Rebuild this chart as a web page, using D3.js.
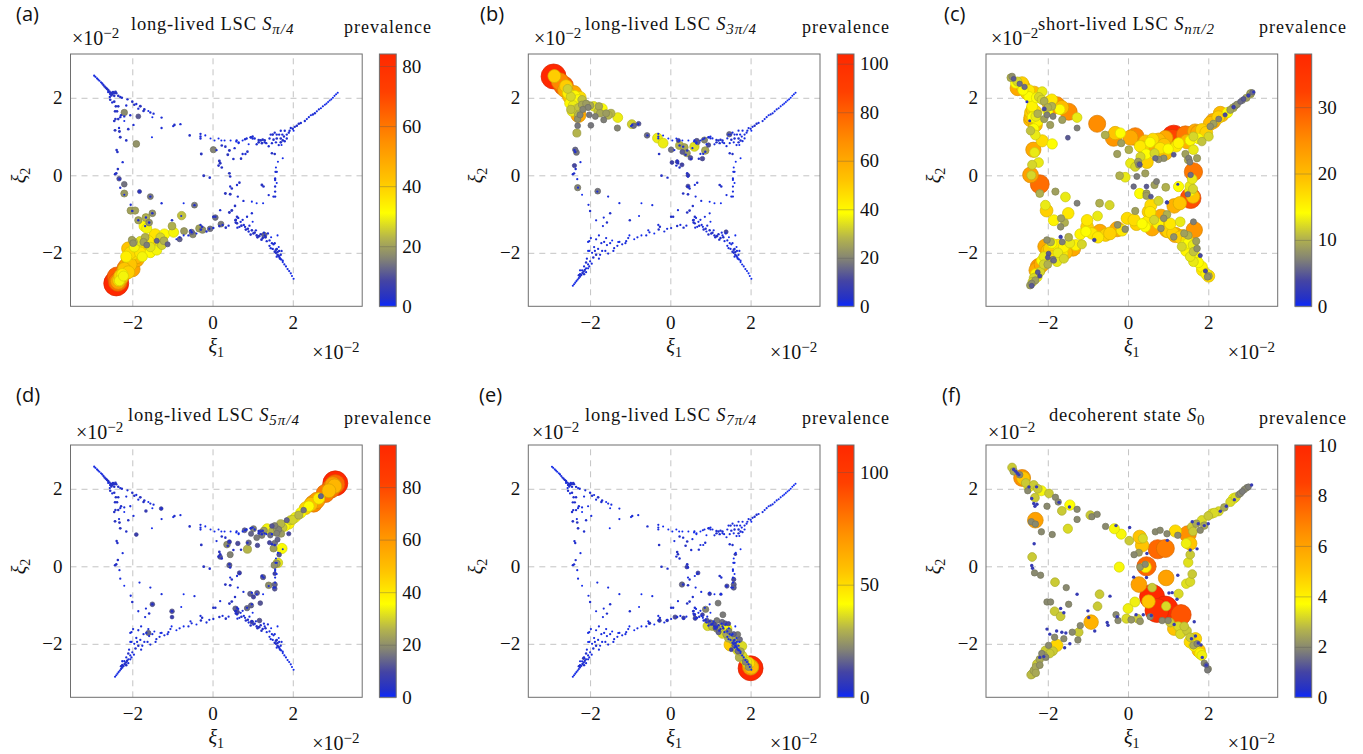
<!DOCTYPE html>
<html lang="en">
<head>
  <meta charset="UTF-8">
  <title>Prevalence maps</title>
  <script src="https://d3js.org/d3.v7.min.js"></script>
  <style>
    body { margin: 0; background: #fff; }
    svg { display: block; }
    text { font-family: "Liberation Serif", serif; fill: #111; }
    .panelTag { font-family: "Open Sans", sans-serif; font-size: 20px; }
    .tick text { font-size: 19px; }
  </style>
</head>
<body>
<div class="main"></div>
<script>

  // values, every point is [xi1, xi2, prevalence]
  const panelLabels = ["(a)", "(b)", "(c)", "(d)", "(e)", "(f)"];
  const panelStates = ["long-lived LSC ", "long-lived LSC ", "short-lived LSC ", "long-lived LSC ", "long-lived LSC ", "decoherent state "];
  const panelSubscripts = ["\u03c0/4", "3\u03c0/4", "n\u03c0/2", "5\u03c0/4", "7\u03c0/4", "0"];
  const colorMax = [84, 104, 38, 96, 112, 10];
  const colorTicks = [[0, 20, 40, 60, 80], [0, 20, 40, 60, 80, 100], [0, 10, 20, 30], [0, 20, 40, 60, 80], [0, 50, 100], [0, 2, 4, 6, 8, 10]];
  const xiTicks = [-2, 0, 2];

  const tipNW = [[-2.95,2.57,1.5],[-2.92,2.54,1.5],[-2.88,2.5,1.5],[-2.85,2.47,1.5],[-2.82,2.44,1.5],[-2.78,2.4,1.5],[-2.75,2.37,2],[-2.72,2.33,2],[-2.69,2.29,2.5],[-2.66,2.26,2.5],[-2.63,2.23,3],[-2.6,2.2,3],[-2.57,2.16,3],[-2.53,2.13,3],[-2.5,2.1,3],[-2.46,2.12,4],[-2.42,2.15,4],[-2.52,2.06,3],[-2.56,2.02,2],[-2.55,1.95,3],[-2.6,2.15,2],[-2.55,2.1,3],[-2.48,2.15,3],[-2.45,2.05,3],[-2.4,2.12,3],[-2.35,2.05,3],[-2.3,2.02,2]];
  const bandNW = [[-2.41,1.78,3],[-2.35,1.78,3],[-2.43,1.65,3],[-2.26,2.0,3],[-2.12,1.96,2],[-2.0,1.9,3],[-1.9,1.84,2],[-1.8,1.78,4],[-1.72,1.66,3],[-1.6,1.66,1],[-1.47,1.59,2],[-1.27,1.49,2],[-1.27,1.22,2],[-1.51,0.98,1],[-1.97,1.3,2],[-2.1,1.19,3],[-2.43,1.16,4],[-2.32,1.13,4],[-2.3,0.98,4],[-2.15,0.9,3],[-2.3,1.5,2],[-2.2,1.4,1],[-2.05,1.55,2],[-2.5,1.88,2],[-2.45,1.9,3],[-2.38,1.65,3],[-2.28,1.55,3],[-2.45,1.4,3],[-2.35,1.45,3],[-2.2,1.52,2],[-2.15,1.8,2],[-1.95,1.82,3],[-1.85,1.72,2],[-1.7,1.7,3],[-1.55,1.62,2],[-1.5,1.5,1],[-2.42,1.45,3],[-2.33,1.22,2]];
  const cloudW = [[-2.39,0.65,3],[-2.37,0.6,3],[-2.24,0.34,2],[-2.36,0.16,3],[-2.43,0.03,3],[-2.4,0.05,3],[-2.32,-0.1,2],[-2.3,-0.32,2],[-2.2,-0.5,1],[-2.04,-0.76,2],[-2.0,-0.92,3],[-1.82,-0.42,2],[-1.55,-0.55,2],[-1.27,-0.72,2],[-0.72,-0.72,1],[-0.45,-0.77,2],[-1.5,-0.98,3],[-1.01,-1.16,3],[-0.78,-1.05,1],[-1.85,-1.16,2],[-1.66,-1.09,2],[-1.58,-1.22,3],[-1.68,-1.31,2]];
  const cloudTop = [[-0.95,1.3,3],[-0.98,1.27,2],[-0.8,1.32,2],[-0.57,1.03,3],[-0.3,1.07,2],[-0.3,1.0,2],[-0.3,0.95,2],[-0.18,1.03,1],[-0.05,0.95,1],[0.05,0.9,1],[0.15,0.95,1],[0.22,0.9,1],[0.3,0.9,1],[0.45,0.9,1],[0.6,0.9,2],[0.65,0.85,2],[0.75,0.9,1],[0.85,0.95,2],[1.0,1.0,2],[1.05,0.95,2],[1.2,0.9,3],[1.25,0.92,3],[1.15,0.85,3],[1.3,0.85,2],[0.95,0.98,3]];
  const cloudNE = [[1.45,1.05,2],[1.5,1.05,3],[1.6,1.05,2],[1.7,1.15,2],[1.8,1.15,2],[1.9,1.1,2],[1.7,0.95,3],[1.75,0.9,3],[1.8,0.88,2],[1.7,0.85,3],[1.85,1.05,2],[1.6,0.95,3],[2.0,1.2,2],[2.05,1.25,2],[2.1,1.28,3],[2.15,1.33,3],[2.2,1.35,2],[2.3,1.4,2],[2.35,1.45,1.5],[2.4,1.5,1.5],[2.45,1.55,1.5],[2.5,1.57,2],[2.55,1.6,2],[2.6,1.65,1.5],[2.65,1.7,1.5],[2.7,1.73,1.5],[2.75,1.78,1.5],[2.8,1.82,1],[2.84,1.85,1],[2.88,1.89,1],[2.92,1.93,1],[2.96,1.96,1],[3.0,2.0,1],[3.04,2.05,1],[3.08,2.09,1],[3.12,2.13,1],[1.42,0.95,2],[1.52,0.92,3],[1.58,0.85,2],[1.65,0.78,2],[1.72,0.78,1],[1.78,1.0,2],[1.85,0.95,2],[1.92,1.15,2],[1.95,1.22,2],[2.02,1.15,1],[1.66,1.05,2],[1.74,1.05,2],[1.55,1.1,2],[1.4,0.75,2],[1.3,0.9,3],[1.1,0.8,2],[1.0,0.95,2],[0.82,0.55,2],[0.9,0.8,1],[0.55,0.7,2],[0.75,0.55,2]];
  const cloudC = [[-0.28,0.55,4],[-0.22,-0.01,4],[-0.07,-0.06,3],[0.23,0.77,3],[0.32,0.74,3],[0.1,0.65,2],[0.42,0.64,4],[0.38,0.53,4],[0.52,0.42,3],[0.71,0.43,3],[0.87,0.61,3],[0.65,0.83,1],[0.59,0.87,1],[0.81,0.93,2],[0.96,0.98,2],[1.15,0.91,3],[1.23,0.83,3],[1.34,0.83,2],[1.48,0.83,2],[1.48,0.57,3],[1.55,0.55,3],[1.75,0.44,1],[0.17,0.37,4],[0.19,0.31,4],[0.15,0.25,3],[0.23,0.2,3],[0.42,0.05,4],[0.44,-0.03,3],[0.67,-0.19,3],[0.61,-0.25,2],[0.48,-0.34,3],[0.44,-0.29,2],[0.44,-0.49,4],[0.32,-0.47,4],[0.63,-0.55,2],[0.77,-0.66,2],[0.56,-0.79,3],[0.48,-0.91,4],[0.42,-0.96,4],[0.19,-0.9,2],[0.02,-1.07,3],[0.07,-1.07,3],[0.98,-0.68,1],[1.1,-0.72,1],[1.26,-0.72,1],[0.98,-0.98,2],[0.86,-1.07,2],[1.23,-0.25,4],[1.27,-0.29,3],[1.4,-0.51,2],[1.57,0.09,2],[1.6,0.09,2],[1.56,-0.12,2],[1.56,-0.29,2],[1.56,-0.42,2],[1.52,-0.55,2],[1.56,-0.55,2],[1.63,0.35,1],[1.56,-0.08,2],[1.58,0.2,1],[1.6,-0.2,1],[0.61,-1.07,3],[0.57,-1.16,3],[0.61,-1.24,3],[0.67,-1.33,2],[0.81,-1.33,2],[0.75,-1.15,2],[1.0,-1.2,1]];
  const cloudSouth = [[-0.52,-1.47,2],[-0.29,-1.4,3],[-0.26,-1.33,3],[-0.08,-1.38,2],[0.02,-1.36,2],[0.17,-1.31,3],[0.25,-1.28,2],[0.33,-1.35,3],[0.4,-1.3,2],[0.58,-1.22,3],[0.62,-1.35,2],[-0.72,-1.55,1],[-0.9,-1.65,1],[-0.82,-1.6,2],[-0.6,-1.55,2],[-0.55,-1.42,2],[-0.4,-1.5,1],[-0.3,-1.28,2],[-0.15,-1.45,2]];
  const cloudSE = [[0.83,-1.4,3],[0.9,-1.45,2],[0.95,-1.53,3],[1.05,-1.48,3],[1.1,-1.55,3],[1.16,-1.57,4],[1.25,-1.62,3],[1.3,-1.55,2],[1.35,-1.7,2],[1.42,-1.82,2],[1.5,-1.9,2],[1.55,-1.97,3],[1.62,-2.05,3],[1.65,-1.85,1],[1.7,-2.05,2],[1.75,-2.2,1.5],[1.67,-2.12,2],[1.71,-2.17,2],[1.75,-2.24,1.5],[1.79,-2.3,1.5],[1.83,-2.35,1.5],[1.87,-2.42,1.5],[1.91,-2.47,1.5],[1.95,-2.53,1.5],[1.98,-2.6,1],[2.02,-2.67,1],[0.58,-1.15,3],[0.64,-1.1,2],[0.7,-1.2,2],[0.72,-1.3,3],[0.78,-1.28,2],[0.88,-1.38,3],[0.92,-1.3,2],[0.98,-1.42,3],[1.02,-1.5,3],[1.08,-1.42,2],[1.12,-1.6,3],[1.2,-1.52,3],[1.22,-1.66,3],[1.28,-1.48,2],[1.32,-1.6,3],[1.38,-1.5,2],[1.42,-1.68,2],[1.46,-1.6,1],[1.48,-1.75,2],[1.52,-1.78,2],[1.45,-1.88,2],[1.58,-1.92,3],[1.6,-1.9,3],[1.62,-1.98,3],[1.66,-1.95,2],[1.58,-2.0,3],[1.65,-2.08,3],[1.72,-1.95,2],[1.68,-2.15,2],[1.6,-2.1,2],[1.55,-1.75,2],[1.62,-1.55,1]];
  const cloudSW = [[-2.43,-2.85,1.5],[-2.4,-2.81,1.5],[-2.37,-2.77,1.5],[-2.34,-2.73,1.5],[-2.31,-2.69,2],[-2.28,-2.65,2],[-2.25,-2.61,2.5],[-2.22,-2.57,2.5],[-2.19,-2.52,3],[-2.16,-2.48,3],[-2.13,-2.44,3],[-2.1,-2.4,2],[-2.15,-2.35,2],[-2.05,-2.3,2],[-2.0,-2.22,2],[-2.08,-2.15,2],[-2.05,-1.95,1],[-2.02,-1.7,2],[-1.9,-1.85,2],[-1.85,-2.05,3],[-1.78,-2.15,2],[-1.7,-1.95,2],[-1.65,-1.72,2],[-1.58,-1.8,2],[-1.55,-2.02,2],[-1.45,-1.68,1],[-1.4,-1.88,2],[-1.27,-1.72,2],[-1.2,-1.78,2],[-1.1,-1.7,2],[-1.02,-1.55,1],[-2.02,-1.95,2],[-1.95,-2.0,2],[-1.92,-2.12,3],[-2.1,-2.25,3],[-2.02,-2.35,2],[-1.96,-2.28,2],[-1.88,-1.95,2],[-1.8,-1.9,2],[-1.75,-2.05,2],[-1.72,-1.75,2],[-1.62,-1.95,2],[-1.6,-1.62,2],[-1.5,-1.75,2],[-1.42,-1.95,2],[-1.32,-1.82,2],[-1.3,-1.72,1],[-1.12,-1.75,2],[-1.05,-1.62,2],[-2.25,-2.55,3],[-2.2,-2.45,2],[-2.15,-2.55,3],[-2.25,-2.45,2],[-2.1,-2.5,2],[-2.05,-2.4,2],[-2.28,-2.58,3],[-2.05,-1.72,2],[-1.98,-1.62,2],[-1.85,-1.65,2],[-1.78,-1.55,2]];

  const highlightsA = [[-2.4,-2.79,84],[-2.36,-2.75,62],[-2.35,-2.74,50],[-2.33,-2.71,40],[-2.32,-2.72,30],[-2.25,-2.55,34],[-2.2,-2.5,55],[-2.15,-2.4,60],[-2.28,-2.65,45],[-1.89,-2.17,48],[-2.07,-2.16,48],[-2.1,-1.89,42],[-1.97,-2.02,38],[-1.72,-1.93,40],[-1.85,-1.8,38],[-1.51,-1.67,40],[-1.68,-1.6,22],[-1.97,-1.72,22],[-2.01,-1.67,20],[-1.43,-1.53,36],[-1.2,-1.52,32],[-1.39,-1.93,30],[-1.55,-1.99,32],[-1.26,-1.8,26],[-1.21,-1.69,22],[-1.12,-1.78,12],[-1.64,-1.8,15],[-1.39,-1.69,12],[-1.7,-1.31,32],[-1.64,-1.37,30],[-1.85,-1.16,20],[-1.66,-1.09,22],[-1.58,-1.22,18],[-1.5,-0.98,18],[-2.04,-0.91,20],[-1.93,-0.91,20],[-1.01,-1.31,22],[-0.97,-1.47,30],[-0.77,-1.04,24],[-0.71,-1.44,19],[-0.45,-0.77,15],[-0.52,-1.46,13],[-0.49,-1.53,17],[-0.82,-1.65,12],[-0.33,-1.37,20],[-0.25,-1.41,18],[-0.06,-1.38,14],[0.21,-1.26,15],[0.07,-1.09,14],[-2.2,-0.23,14],[-2.33,-0.09,10],[-2.2,-0.47,19],[-1.55,-0.55,15],[-1.82,-0.42,8],[-1.9,0.81,18],[-2.2,1.62,17],[-1.85,1.52,11],[0.02,0.66,16],[1.29,-1.54,13],
    [-2.15,-2.1,34],[-2.05,-2.3,42],[-2,-2.42,50],[-2.1,-2.5,40],[-2.22,-2.6,30],[-1.9,-2.1,45],[-1.8,-2.0,36],[-1.75,-2.1,30],[-1.95,-1.85,30],[-2.05,-2.0,38],[-1.8,-1.7,28],[-1.6,-1.7,35],[-1.55,-1.85,28],[-1.3,-1.6,26],[-1.3,-1.75,28],[-1.85,-1.95,42],[-1.98,-1.75,18],[-1.72,-1.72,20],[-2.12,-2.3,50],[-2.2,-2.42,42],[-2.3,-2.6,40],[-2.38,-2.62,65]];
  const highlightsB = [[-2.91,2.55,104],[-2.89,2.56,50],[-2.66,2.31,80],[-2.56,2.23,32],[-2.51,2.03,55],[-2.48,2.03,33],[-2.25,2.01,46],[-2.4,2.12,60],[-2.2,1.95,30],[-2.5,1.86,40],[-2.33,1.86,40],[-2.45,1.65,36],[-2.29,1.56,60],[-2.29,1.56,28],[-2.25,1.56,20],[-2.31,1.28,18],[-2.33,1.09,28],[-2.31,1.45,22],[-1.91,1.78,35],[-1.7,1.72,38],[-1.78,1.78,26],[-1.48,1.6,28],[-1.31,1.49,36],[-2.02,1.56,18],[-1.87,1.52,19],[-1.66,1.43,19],[-1.32,1.22,20],[-0.96,1.32,32],[-0.91,1.28,16],[-0.79,1.33,13],[-0.58,1.03,17],[-0.32,0.96,36],[-0.18,0.83,36],[0.02,0.66,17],[0.23,0.77,28],[0.35,0.72,26],[0.41,0.57,24],[0.6,0.74,34],[0.87,0.64,26],[0.85,0.91,20],[0.66,0.89,14],[1.47,1.06,16],[-2.37,0.66,16],[-2.34,0.59,18],[-2.39,0.25,11],[-2.31,-0.32,20],[-1.81,-0.41,18],[-1.98,1.29,18],[1.39,-1.46,10],[0.04,0.33,9],[0.17,0.35,9],[0.29,0.27,10],[0.44,-0.28,10],[0.44,0,9],
    [-2.75,2.42,70],[-2.6,2.3,50],[-2.62,2.2,60],[-2.55,2.12,42],[-2.45,1.98,45],[-2.38,2.05,40],[-2.3,1.95,38],[-2.42,1.8,36],[-2.2,1.82,26],[-2.1,1.85,24],[-2.05,1.75,20],[-2.0,1.8,26],[-1.8,1.65,30],[-1.6,1.6,24],[-1.55,1.55,28],[-1.75,1.6,26],[-2.35,1.7,34],[-2.48,1.7,30],[-2.28,1.75,30],[-2.18,1.7,20],[0.68,0.85,14],[0.95,0.78,12],[0.3,0.6,14],[0.5,0.45,13],[0.8,0.43,12],[0.2,0.9,10]];
  const highlightsC = [[-2.89,2.55,8],[-2.85,2.49,5],[-2.76,2.42,12],[-2.7,2.36,6],[-2.64,2.38,18],[-2.58,2.28,6],[-2.75,2.25,22],[-2.47,2.19,16],[-2.34,2.12,20],[-2.14,2.16,13],[-2.47,2.03,14],[-2.22,2.02,12],[-2.09,1.91,10],[-1.97,1.86,20],[-1.78,1.81,25],[-1.9,1.78,10],[-1.48,1.64,25],[-1.27,1.49,13],[-2.39,1.78,15],[-2.31,1.65,17],[-2.25,1.59,10],[-2.43,1.43,20],[-2.3,1.52,13],[-2.31,1.3,20],[-2.02,1.56,7],[-1.87,1.52,7],[-2.09,1.45,9],[-1.94,1.3,9],[-1.64,1.43,9],[-1.27,1.22,7],[-2.43,1.15,11],[-2.31,1.04,13],[-2.14,0.89,17],[-1.89,0.81,14],[-1.5,0.97,5],[-2.09,1.71,4],[-2.45,1.41,2],[-2.52,1.9,2],
    [-2.36,0.66,22],[-2.33,0.59,13],[-2.39,0.27,12],[-2.23,0.33,13],[-2.43,0.01,23],[-2.41,0,12],[-2.2,-0.23,28],[-2.2,-0.47,10],[-1.81,-0.42,9],[-1.56,-0.56,13],[-1.27,-0.72,7],[-0.71,-0.72,10],[-0.46,-0.77,12],[-2.06,-0.77,13],[-2.03,-0.91,18],[-1.49,-0.98,16],[-0.76,-1.05,13],[-1.85,-1.16,15],[-1.67,-1.11,9],[-1.58,-1.22,10],[-1.68,-1.33,8],
    [-0.77,1.33,25],[-0.57,1.04,10],[-0.32,1.09,19],[-0.36,0.96,24],[-0.19,1.09,14],[-0.17,0.83,9],[-0.27,0.55,9],[0.02,0.66,10],[0.06,0.31,13],[0.18,0.22,12],[0.27,0.27,8],[0.29,0.28,5],[0.47,0.34,18],[0.43,0.05,9],[0.22,-0.03,7],[-0.21,-0.01,10],[-0.07,-0.05,13],[0.14,-0.29,6],[0.46,-0.29,5],[0.71,-0.16,7],[0.66,-0.25,9],[0.29,-0.47,14],[0.46,-0.47,9],[0.46,-0.53,9],[0.57,-0.55,5],[0.94,-0.31,10],[0.76,-0.66,12],[0.57,-0.77,17],[0.97,-0.7,3],[0.31,0.48,12],[0.37,0.72,18],[0.18,1,26],[0.06,0.97,22],[0.43,0.87,19],[0.64,0.78,22],[0.62,0.93,17],[0.76,0.91,20],[0.93,0.96,22],[1.14,0.98,37],[1.1,0.91,32],[1.43,1.04,27],[1.47,0.87,21],[1.26,0.83,15],[1.14,0.53,5],[0.89,0.44,8],[0.68,0.44,6],[0.76,0.41,8],[0.66,0.57,12],[0.93,0.57,20],
    [1.63,0.09,27],[1.72,0.44,9],[1.63,0.66,13],[1.43,0.55,9],[1.51,0.44,7],[1.54,0.34,7],[1.56,0.01,6],[1.54,-0.28,13],[1.26,-0.29,14],[1.24,-0.23,2],[1.56,-0.59,31],[1.62,-0.55,19],[1.49,-0.49,6],[1.15,-0.79,21],[1.29,-0.72,19],[0.51,-0.94,18],[0.18,-0.92,9],
    [-0.02,-1.11,17],[0.21,-1.26,18],[0.47,-1.2,16],[0.43,-1.33,14],[0.6,-1.37,22],[0.82,-1.07,22],[0.97,-1.01,10],[0.89,-1.11,8],[0.82,-1.37,8],[0.97,-1.41,22],[1.18,-1.54,22],[1.14,-1.59,8],[1.3,-1.2,13],[1.65,-1.41,24],[1.63,-1.2,7],[1.47,-1.67,17],[-0.07,-1.39,8],[-0.27,-1.39,22],[-0.26,-1.28,8],[-0.56,-1.54,18],[-0.7,-1.46,22],[-1.02,-1.16,16],[-1.02,-1.33,18],[-1.19,-1.52,15],[-0.84,-1.67,3],[-1.15,-1.78,12],
    [-2.06,-1.84,22],[-1.85,-1.97,20],[-1.56,-1.99,20],[-1.37,-1.89,22],[-1.64,-2.02,16],[-2.02,-2.19,16],[-1.77,-2.23,13],[-2.23,-2.36,24],[-2.19,-2.49,12],[-2.27,-2.62,14],[-2.31,-2.71,9],[-2.4,-2.79,8],[-2.44,-2.84,9],[-2.02,-1.67,8],[-1.93,-1.72,10],[-1.68,-1.59,3],[-1.64,-1.72,7],[-1.48,-1.6,10],[-1.98,-2.02,5],[-1.87,-2.17,7],[-2.1,-2.1,13],
    [1.34,-1.84,12],[1.55,-1.89,15],[1.63,-1.97,11],[1.8,-2.07,4],[1.72,-1.89,8],[1.63,-2.23,13],[1.84,-2.36,15],[1.93,-2.47,4],[2.01,-2.6,17],[2.01,-2.6,9],
    [1.84,1.17,18],[1.67,1.13,22],[2.05,1.34,20],[2.13,1.33,9],[2.05,1.26,8],[2.01,1,12],[1.84,0.87,11],[1.63,1,12],[2.34,1.56,20],[2.26,1.45,7],[2.42,1.56,4],[2.55,1.69,9],[2.67,1.79,8],[2.8,1.9,6],[2.88,1.97,5],[3.0,2.06,3],[3.06,2.12,9],[3.13,2.15,2],[2.63,1.76,3],
    [-2.92,2.52,10],[-2.8,2.38,14],[-2.62,2.2,14],[-2.52,2.12,18],[-2.28,2.0,14],[-2.15,1.95,12],[-2.0,1.75,10],[-2.42,1.62,18],[-2.38,1.5,14],[-2.25,1.4,15],[-2.35,1.2,14],[-1.7,1.7,14],[-2.0,1.65,14],[-1.9,1.95,16],
    [-1.9,-1.75,14],[-1.75,-1.8,16],[-1.6,-1.85,15],[-1.45,-1.75,13],[-1.3,-1.8,15],[-2.0,-1.95,20],[-1.9,-2.1,17],[-2.1,-2.3,12],[-2.15,-2.2,14],[-2.0,-2.3,10],[-2.28,-2.45,22],[-2.3,-2.55,15],[-2.35,-2.65,12],[-2.38,-2.75,12],[-1.75,-2.0,13],[-1.6,-2.15,12],[-2.4,-2.85,5],[-2.2,-2.6,4],[-2.25,-2.5,5],[-2,-2.12,5],[-1.85,-2.2,6],
    [1.0,-1.45,18],[1.12,-1.5,18],[1.3,-1.6,18],[1.4,-1.8,14],[1.5,-1.75,14],[1.45,-1.95,15],[1.62,-1.8,13],[1.55,-2.1,13],[1.7,-2.1,14],[1.75,-2.25,14],[1.85,-2.45,16],[1.95,-2.55,15],[1.98,-2.62,8],[1.7,-1.7,9],[1.5,-1.55,10],[1.4,-1.5,9],[1.05,-1.25,16],[0.75,-1.25,15],[0.65,-1.15,12],[0.55,-0.95,16],[0.35,-1.25,14],[0.15,-1.15,17],
    [-0.45,-1.5,18],[-0.15,-1.42,16],[-0.9,-1.5,16],[-1.05,-1.45,14],[-0.75,-1.6,16],
    [0.9,0.78,19],[0.8,0.7,16],[1.0,0.68,14],[1.2,0.75,16],[1.55,0.9,14],[1.75,0.95,14],[1.95,1.1,18],[2.12,1.4,22],[2.25,1.5,18],[2.48,1.62,14],[2.62,1.74,10],[2.72,1.83,8],[2.95,2.0,9],[3.05,2.1,10],[2.85,1.93,7],[3.1,2.14,6],[1.5,0.4,10],[1.6,-0.1,13],[1.55,-0.4,15],[1.62,-0.35,12],[0.3,0.75,16],[0.55,0.85,14],[0.25,0.35,9],[0.45,0.55,14],
    [-2.62,2.3,20],[-2.42,1.5,20],[-2.38,1.7,18],[-1.65,1.75,20],[1.75,1.1,22],[2.3,1.6,20],[-2.15,-2.3,22],[-1.95,-1.9,18],[1.35,-1.58,20]];
  const highlightsD = [[3.06,2.14,96],[3.06,2.12,72],[3.04,2.07,52],[2.81,1.88,68],[2.52,1.62,64],[2.4,1.55,36],[2.7,1.81,14],[2.27,1.45,16],[2.15,1.32,26],[2.06,1.26,34],[1.8,1.04,36],[1.94,1.19,30],[1.7,1.1,26],[1.85,1.19,14],[1.71,0.84,22],[1.36,0.97,34],[1.48,1.04,12],[1.6,0.97,22],[1.73,0.46,35],[1.52,0.46,22],[1.63,0.09,32],[1.6,0.07,22],[1.54,0.03,20],[1.4,-0.49,20],[1.55,-0.47,14],[1.55,-0.58,12],[1.55,-0.19,8],[0.87,0.44,26],[1.12,0.54,11],[0.9,0.61,15],[1.02,0.97,18],[0.96,0.84,14],[0.8,0.93,13],[1.1,0.74,17],[1.23,0.8,18],[1.44,0.8,15],[1.62,0.69,14],[1.9,0.84,10],[1.42,0.61,10],[0.63,0.59,11],[0.36,0.56,20],[0.42,0.63,10],[0.44,0.3,18],[0.19,0.24,12],[0.42,0.03,14],[0.67,-0.17,10],[1.26,-0.28,14],[0.94,-0.71,14],[1.11,-0.69,13],[1.02,-0.79,10],[1.19,-0.95,12],[0.96,-1.01,14],[0.86,-1.08,15],[0.57,-1.09,14],[0.62,-1.18,10],[1.17,-1.4,12],[0.98,-1.44,8],[-1.5,-0.98,12],[-1.01,-1.16,12],[-1.01,-1.31,8],[-1.6,-1.72,14],[-1.9,0.82,8],[-1.66,1.43,7],[-1.28,1.49,8],
    [2.95,2.0,70],[3.0,2.1,60],[2.9,1.95,50],[2.65,1.75,40],[2.6,1.7,60],[2.45,1.6,50],[2.32,1.5,45],[2.2,1.38,36],[2.0,1.2,30],[1.9,1.1,38],[1.75,1.0,28],[1.65,0.95,18],[1.6,0.85,18],[1.5,0.9,26],[1.28,0.92,22],[1.2,0.88,14],[1.55,1.05,18],[1.66,0.3,12],[1.55,0.6,16]];
  const highlightsE = [[2,-2.63,112],[2,-2.6,70],[1.91,-2.47,38],[2.02,-2.6,60],[1.87,-2.47,22],[1.79,-2.3,36],[1.68,-2.17,38],[1.79,-2.06,36],[1.5,-2.02,54],[1.55,-1.9,30],[1.6,-2.04,17],[1.68,-2.19,18],[1.73,-1.89,18],[1.68,-1.76,20],[1.3,-1.74,36],[1.41,-1.61,40],[1.16,-1.61,26],[0.93,-1.54,36],[1.46,-1.67,20],[1.12,-1.59,13],[1.2,-1.7,16],[1.29,-1.44,18],[1.37,-1.47,14],[1.16,-1.4,20],[1.31,-1.25,20],[1.19,-0.95,20],[0.88,-1.11,22],[0.91,-1.4,14],[0.62,-1.34,12],[0.33,-1.33,9],[0.12,-1.31,12],[-0.27,-1.4,9],[-0.52,-1.47,8],[-0.08,-1.4,8],[0.29,-0.47,17],[0.69,-0.17,10],[0.41,-0.02,9],[1.41,-0.51,12],[1.58,-0.34,12],[1.58,-0.47,16],[1.58,-0.55,16],[1.62,0.31,8],[1.26,-0.72,7],[0.98,-0.71,9],[-2.16,-2.37,8],
    [1.95,-2.5,50],[1.85,-2.4,40],[1.95,-2.6,25],[1.75,-2.2,28],[1.62,-2.1,34],[1.45,-1.85,30],[1.4,-1.75,28],[1.22,-1.6,32],[1.05,-1.55,30],[1.0,-1.45,18],[1.1,-1.5,12],[1.45,-1.48,12],[1.58,-1.75,16],[1.52,-2.15,10],[0.8,-1.25,10],[0.6,-1.25,8],[1.72,-2.35,30]];
  const highlightsF = [[0.6,-0.79,10],[0.93,-1.09,10],[0.72,-1.14,9.5],[1.32,-1.25,8],[0.51,-0.91,5],[0.95,-1.03,3.2],[0.6,-0.55,3],[0.27,-0.47,6],[0.46,0,7.5],[0.44,-0.02,4],[0.43,0.05,2],[0.74,0.44,7.5],[0.93,0.46,7],[0.95,-0.3,6],[0.35,0.54,5],[0.29,0.76,5],[0.37,0.72,3.2],[1.49,0.83,6.5],[1.18,0.91,4.5],[1.55,0.59,5],[1.45,0.59,3.5],[1.26,-0.71,3.2],[0.17,-0.92,3.5],[0,-1.09,3.5],[-0.04,-1.35,3.2],[0.24,-1.35,3],[-0.22,-0.02,3.6],[-0.17,0.83,3.6],[-0.34,0.97,3.6],[0.03,0.66,3],[-0.92,-1.44,5.5],[-0.76,-1.03,3],[-0.71,-0.72,3],[-1.82,-0.41,3],[-1.54,-0.55,2],[-1.83,-1.16,3],[-1.68,-1.29,3],[-1.48,-0.98,2],[-2.02,-0.92,2],[-1.93,-0.92,2],[-2.39,0.24,3],[-2.31,1.19,6],[-2.41,1.15,2],[-2.31,1.09,2],[-2.16,0.89,2],[-1.89,0.82,2],[-1.5,0.97,3.2],[-2.33,-0.17,2],[-2.18,-0.23,2],[-2.64,2.28,6.5],[-2.61,2.27,5],[-2.47,2.05,3.6],[-2.16,1.95,3.6],[-1.97,1.88,3],[-2.32,1.77,3],[-1.81,1.78,2],[-1.74,1.66,2],[-2.02,1.55,2],[-1.45,1.58,3.7],[-1.65,1.43,3],[-1.27,1.47,2],[-1.27,1.21,2],[-0.94,1.32,3],[-0.9,1.28,2],[-0.77,1.34,2],[-0.56,1.03,2],
    [0.68,0.89,2],[0.8,0.93,2],[0.97,0.84,2],[1.24,0.8,2],[1.59,1.02,3],[1.84,1.19,3.2],[1.8,0.93,2],[2.09,1.36,3.3],[2.26,1.42,3.2],[2.63,1.75,3.6],[2.55,1.66,3.2],[2.96,2.03,2],[2.9,1.98,2],[2.85,1.93,1.8],[2.76,1.85,2],
    [1.15,-1.61,5],[1.34,-1.66,4.5],[1.68,-1.87,4.6],[1.76,-2.17,5],[1.47,-1.66,3],[1.55,-1.83,3],[1.63,-2.04,2.5],[1.84,-2.3,3.5],[2,-2.65,2],[1.95,-2.55,1.5],[1.05,-1.45,3],[0.85,-1.4,2],
    [-1.78,-2.04,4.6],[-2.06,-2.17,3],[-1.87,-2.19,3],[-1.98,-2.04,2],[-2.27,-2.52,3],[-2.35,-2.69,2.5],[-2.39,-2.78,3],[-1.23,-1.7,3],[-1.39,-1.7,2],[-1.25,-1.9,2],[-1.6,-1.87,2],[-1.83,-1.83,2],[-1.19,-1.53,2],[-2.2,-2.4,2.5],[-2.15,-2.25,2],
    [-2.89,2.55,3],[-2.7,2.36,2],
    [1.62,0.9,3],[1.7,1.1,2.5],[1.9,1.05,2.5],[2.15,1.38,3.2],[2.0,1.3,3],[2.4,1.52,2.5],[2.68,1.78,3.2],[2.8,1.88,2],[3,2.05,1.8],
    [1.0,-1.4,2],[1.25,-1.55,3.2],[1.3,-1.75,3.2],[1.4,-1.55,3],[1.55,-1.95,4.5],[1.65,-2.05,4],[1.72,-2.0,2],[1.8,-2.25,4],[1.9,-2.5,2],[1.98,-2.68,1.8],
    [-2.1,-2.3,2.5],[-2.2,-2.55,2.2],[-2.3,-2.6,2.5],[-2.42,-2.8,2.8],[-2.3,-2.75,2.5],[-1.95,-2.25,3],[-2.05,-2.35,2],
    [-2.85,2.45,2.5],[-2.55,2.15,3],[-2.35,2.1,3],[-2.25,2,3],[-2.5,1.95,2],
    [0.55,-1.3,2],[-0.25,-1.4,2],[-0.3,-1.25,2],[0.08,-1.38,2.2],[0.3,-1.42,2.2],[0.15,0.3,2],[0.27,0.35,2.3],[0.3,-0.02,2.2],[1.5,0.1,3.3],[1.55,0.3,3],[1.6,-0.2,3],[1.55,-0.4,3.2],[1.45,-0.45,3.3]];
  // small blue dots of panel f, shown at about 0.7 prevalence
  const blueF = [[-2.85,2.5,0.7],[-2.8,2.45,0.7],[-2.76,2.4,0.7],[-2.72,2.36,0.7],[-2.47,2.05,0.7],[-2.28,2.05,0.7],[-2.4,1.75,0.7],[-2.35,1.62,0.7],[-2.32,1.55,0.7],[-2.27,1.6,0.7],[-1.72,1.65,0.7],[-1.46,1.53,0.7],[-2.34,0.58,0.7],[-2.4,0.02,0.7],[-2.38,-0.05,0.7],[-1.27,-0.72,0.7],[-0.45,-0.77,0.7],[-1,-1.15,0.7],[-0.98,-1.32,0.7],[-1.68,-1.09,0.7],[-1.6,-1.2,0.7],[-0.52,-1.45,0.7],[-0.5,-1.52,0.7],[-0.27,-1.3,0.7],[-0.83,-1.67,0.7],[-2.02,-1.62,0.7],[-1.78,-1.67,0.7],[-1.65,-1.7,0.7],[-1.55,-1.72,0.7],[-1.95,-1.75,0.7],[-1.45,-2.0,0.7],[-1.58,-2.1,0.7],[-2.1,-2.33,0.7],[-2.2,-2.35,0.7],[0.14,-0.28,0.7],[0.46,-0.29,0.7],[1.24,-0.23,0.7],[1.02,-0.69,0.7],[1.1,-0.68,0.7],[1.22,-0.85,0.7],[0.2,-1.25,0.7],[0.38,-1.25,0.7],[0.58,-1.27,0.7],[1.65,-1.43,0.7],[1.15,-1.5,0.7],[1.58,-1.87,0.7],[1.68,-1.8,0.7],[1.75,-1.98,0.7],[1.82,-2.03,0.7],[1.85,-2.35,0.7],[1.95,-2.55,0.7],[0.47,0.33,0.7],[0.04,1.0,0.7],[-0.3,1.05,0.7],[0.98,0.67,0.7],[1.55,0.42,0.7],[1.72,0.45,0.7],[1.6,1.15,0.7],[1.75,1.1,0.7],[1.9,1.05,0.7],[2.0,1.1,0.7],[2.3,1.42,0.7],[2.45,1.55,0.7],[2.65,1.72,0.7],[3.08,2.1,0.7]];

  const cloudBase = [cloudW, cloudTop, cloudC, cloudSouth];
  const panelPoints = [
    [tipNW, bandNW, cloudNE, cloudSE, ...cloudBase, highlightsA],
    [cloudNE, cloudSW, cloudSE, ...cloudBase, highlightsB],
    [highlightsC],
    [tipNW, bandNW, cloudSW, cloudSE, ...cloudBase, highlightsD],
    [tipNW, bandNW, cloudNE, cloudSW, cloudSE, ...cloudBase, highlightsE],
    [highlightsF, blueF]
  ];

  // colormap anchors as fractions of the colorbar
  const colorStops = [0, 0.03, 0.1, 0.19, 0.27, 0.37, 0.5, 0.65, 0.85, 1];
  const colorValues = ["#0a28ff", "#2330c8", "#4444a4", "#848474", "#b4b44c", "#ffff00", "#ffc400", "#ff9000", "#ff4000", "#ff2800"];
  const colorRamp = d3.scaleLinear().domain(colorStops).range(colorValues).interpolate(d3.interpolateRgb);

  // layout, one entry per panel
  const boxLeft = [70.5, 528.3, 986, 70.5, 528.3, 986];
  const boxTop = [54, 54, 54, 445, 445, 445];
  const boxW = 291.7, boxH = 252.3, barGap = 17.2, barW = 16.8;
  const titleX = [131, 585, 1038, 128, 585, 1049];
  const titleY = [30, 30, 30, 421, 421, 421];
  const expX = [72, 534, 991, 76, 532, 988];
  const expY = [45, 45, 45, 439, 439, 439];
  const prevX = [344, 802, 1259, 344, 802, 1259];
  const tagX = [16, 480, 944, 16, 479, 942];
  const tagY = [21, 21, 21, 402, 402, 402];

  let width = 1363, height = 754;

  let svg = d3.select(".main").append("svg").attr("width", width).attr("height", height);

  let defs = svg.append("defs");
  let gradient = defs.append("linearGradient").attr("id", "ramp").attr("x1", 0).attr("y1", 1).attr("x2", 0).attr("y2", 0);
  colorStops.forEach((s, i) => gradient.append("stop").attr("offset", s).attr("stop-color", colorValues[i]));

  let addExponent = (x, y) => {
    let t = svg.append("text").attr("x", x).attr("y", y).style("font-size", "20px").text("\u00d710");
    t.append("tspan").attr("dy", -7).style("font-size", "15px").text("\u22122");
  };

  let drawPanel = (idx) => {
    let left = boxLeft[idx], top = boxTop[idx];
    let xScale = d3.scaleLinear().domain([-3.54, 3.73]).range([left, left + boxW]);
    let yScale = d3.scaleLinear().domain([-3.38, 3.13]).range([top + boxH, top]);
    let rScale = d3.scaleLinear().domain([0, colorMax[idx]]).range([0.9, 12.5]);
    let cScale = v => colorRamp(v / colorMax[idx]);

    let fmt = d => String(d).replace("-", "\u2212");

    // grid comes out of the axes
    let xAxis = d3.axisBottom(xScale).tickValues(xiTicks).tickSize(-boxH).tickPadding(9).tickFormat(fmt);
    let yAxis = d3.axisLeft(yScale).tickValues(xiTicks).tickSize(-boxW).tickPadding(8).tickFormat(fmt);

    let gx = svg.append("g").attr("transform", `translate(0,${top + boxH})`).call(xAxis);
    let gy = svg.append("g").attr("transform", `translate(${left},0)`).call(yAxis);
    [gx, gy].forEach(g => {
      g.select(".domain").remove();
      g.selectAll(".tick line").attr("stroke", "#c4c4c4").attr("stroke-dasharray", "6,5");
    });

    let points = panelPoints[idx].flat().slice().sort((a, b) => b[2] - a[2]);
    svg.append("g").selectAll("circle")
      .data(points)
      .join("circle")
      .attr("cx", d => xScale(d[0]))
      .attr("cy", d => yScale(d[1]))
      .attr("r", d => rScale(d[2]))
      .attr("fill", d => cScale(d[2]))
      .attr("stroke", d => d3.color(cScale(d[2])).darker(0.45))
      .attr("stroke-width", d => rScale(d[2]) > 1.8 ? 0.7 : 0);

    svg.append("rect").attr("x", left).attr("y", top).attr("width", boxW).attr("height", boxH)
      .attr("fill", "none").attr("stroke", "#6e6e6e").attr("stroke-width", 1);

    // colorbar
    let barX = left + boxW + barGap;
    let barScale = d3.scaleLinear().domain([0, colorMax[idx]]).range([top + boxH, top]);
    svg.append("rect").attr("x", barX).attr("y", top).attr("width", barW).attr("height", boxH)
      .attr("fill", "url(#ramp)");
    let barAxis = d3.axisRight(barScale).tickValues(colorTicks[idx]).tickSize(-barW).tickPadding(6);
    let gb = svg.append("g").attr("transform", `translate(${barX + barW},0)`).call(barAxis);
    gb.select(".domain").remove();
    gb.selectAll(".tick line").attr("stroke", "#555").attr("stroke-opacity", 0.35);
    svg.append("rect").attr("x", barX).attr("y", top).attr("width", barW).attr("height", boxH)
      .attr("fill", "none").attr("stroke", "#6e6e6e").attr("stroke-width", 1);

    // panel tag, title and axis names
    svg.append("text").attr("class", "panelTag").attr("x", tagX[idx]).attr("y", tagY[idx]).text(panelLabels[idx]);

    let title = svg.append("text").attr("x", titleX[idx]).attr("y", titleY[idx]).style("font-size", "18.5px").style("letter-spacing", "0.8px");
    title.append("tspan").text(panelStates[idx]);
    title.append("tspan").style("font-style", "italic").text("S");
    title.append("tspan").attr("dy", 4).style("font-size", "15px").style("letter-spacing", "1px").style("font-style", idx == 5 ? "normal" : "italic").text(panelSubscripts[idx]);

    svg.append("text").attr("x", prevX[idx]).attr("y", titleY[idx] + 3).style("font-size", "18px").style("letter-spacing", "1px").text("prevalence");

    addExponent(expX[idx], expY[idx]);
    addExponent(left + boxW - 50, top + boxH + 53);

    let xLabel = svg.append("text").attr("x", xScale(0) - 4).attr("y", top + boxH + 47).style("font-size", "20px").style("font-style", "italic").text("\u03be");
    xLabel.append("tspan").attr("dy", 4).style("font-size", "14px").style("font-style", "normal").text("1");

    let yLabel = svg.append("text").attr("transform", `translate(${left - 45},${yScale(0) + 8}) rotate(-90)`).style("font-size", "20px").style("font-style", "italic").text("\u03be");
    yLabel.append("tspan").attr("dy", 4).style("font-size", "14px").style("font-style", "normal").text("2");
  };

  panelLabels.forEach((d, i) => drawPanel(i));

</script>
</body>
</html>
